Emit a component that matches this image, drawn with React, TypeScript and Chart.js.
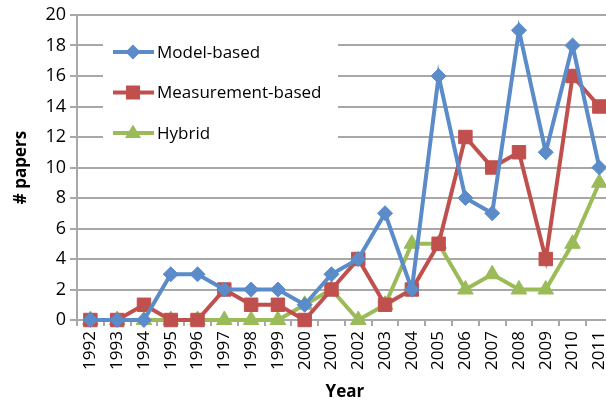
import React, { useEffect, useRef } from "react";
import { Chart, registerables } from "chart.js";

Chart.register(...registerables);

const years = ["1992","1993","1994","1995","1996","1997","1998","1999","2000","2001","2002","2003","2004","2005","2006","2007","2008","2009","2010","2011"];
const modelBased = [0,0,0,3,3,2,2,2,1,3,4,7,2,16,8,7,19,11,18,10];
const measurementBased = [0,0,1,0,0,2,1,1,0,2,4,1,2,5,12,10,11,4,16,14];
const hybrid = [0,0,0,0,0,0,0,0,1,2,0,1,5,5,2,3,2,2,5,9];
const seriesLabels = ["Model-based", "Measurement-based", "Hybrid"];
const yTicks = [0,2,4,6,8,10,12,14,16,18,20];

const BLUE = "#5b8bc9";
const RED = "#c0504d";
const GREEN = "#9bbb59";
const GRID = "#a8a8a8";
const FONT = "'Open Sans', sans-serif";

function drawMarker(ctx: CanvasRenderingContext2D, style: string, x: number, y: number, color: string) {
  ctx.fillStyle = color;
  ctx.beginPath();
  if (style === "rectRot") {
    const r = 7.5;
    ctx.moveTo(x, y - r); ctx.lineTo(x + r, y); ctx.lineTo(x, y + r); ctx.lineTo(x - r, y);
  } else if (style === "rect") {
    const s = 7;
    ctx.rect(x - s, y - s, 2 * s, 2 * s);
  } else {
    const r = 8.5;
    ctx.moveTo(x, y - r); ctx.lineTo(x + r * 0.95, y + r * 0.6); ctx.lineTo(x - r * 0.95, y + r * 0.6);
  }
  ctx.closePath();
  ctx.fill();
}

const legendPlugin = {
  id: "boxLegend",
  beforeDatasetsDraw(chart: any) {
    const ctx = chart.ctx as CanvasRenderingContext2D;
    ctx.save();
    ctx.fillStyle = "#ffffff";
    ctx.fillRect(103, 25, 235, 126);
    chart.data.datasets.forEach((ds: any, i: number) => {
      const y = 52 + i * 40.5;
      ctx.strokeStyle = ds.borderColor;
      ctx.lineWidth = 4;
      ctx.beginPath();
      ctx.moveTo(113, y);
      ctx.lineTo(154, y);
      ctx.stroke();
      drawMarker(ctx, ds.pointStyle, 133, y, ds.borderColor);
      ctx.fillStyle = "#000";
      ctx.font = `17px ${FONT}`;
      ctx.textBaseline = "middle";
      ctx.textAlign = "left";
      ctx.fillText(ds.label, 157, y + 1);
    });
    ctx.restore();
  },
};

export default function App() {
  const ref = useRef<HTMLCanvasElement>(null);
  useEffect(() => {
    if (!ref.current) return;
    const mk = (label: string, data: number[], color: string, style: string, radius: number) => ({
      label,
      data,
      borderColor: color,
      backgroundColor: color,
      borderWidth: 4,
      pointStyle: style,
      pointRadius: radius,
      pointBorderWidth: 1,
      pointBorderColor: color,
      pointBackgroundColor: color,
      tension: 0,
    });
    const chart = new Chart(ref.current, {
      type: "line",
      data: {
        labels: years,
        datasets: [
          mk(seriesLabels[0], modelBased, BLUE, "rectRot", 7.5),
          mk(seriesLabels[1], measurementBased, RED, "rect", 9.5),
          mk(seriesLabels[2], hybrid, GREEN, "triangle", 9),
        ],
      },
      options: {
        animation: false,
        responsive: false,
        clip: false,
        layout: { padding: { top: 15, right: 0, left: 0, bottom: 0 } },
        plugins: { legend: { display: false }, tooltip: { enabled: false } },
        scales: {
          x: {
            offset: true,
            grid: { drawOnChartArea: false, drawTicks: true, tickLength: 6, offset: true, color: GRID, lineWidth: 2 },
            border: { color: GRID, width: 2 },
            ticks: { minRotation: 90, maxRotation: 90, autoSkip: false, color: "#000", font: { family: FONT, size: 17 }, padding: 5 },
            title: { display: true, text: "Year", color: "#000", font: { family: FONT, size: 17, weight: "bold" }, padding: { top: 0, bottom: 0 } },
            afterFit: (s: any) => { s.height = 82; },
          },
          y: {
            min: 0,
            max: 20,
            afterBuildTicks: (s: any) => { s.ticks = yTicks.map((v) => ({ value: v })); },
            grid: { color: GRID, lineWidth: 2, tickLength: 7, drawTicks: true },
            border: { color: GRID, width: 2 },
            ticks: { color: "#000", font: { family: FONT, size: 18 }, padding: 4 },
            title: { display: true, text: "# papers", color: "#000", font: { family: FONT, size: 17, weight: "bold" }, padding: { top: 11, bottom: 0 } },
            afterFit: (s: any) => { s.width = 77; },
          },
        },
      },
      plugins: [legendPlugin],
    } as any);
    return () => chart.destroy();
  }, []);
  return (
    <div style={{ position: "absolute", left: 0, top: 0, width: 606, height: 402, overflow: "hidden", background: "#fff" }}>
      <canvas ref={ref} width={625} height={402} style={{ display: "block", width: 625, height: 402 }} />
    </div>
  );
}
